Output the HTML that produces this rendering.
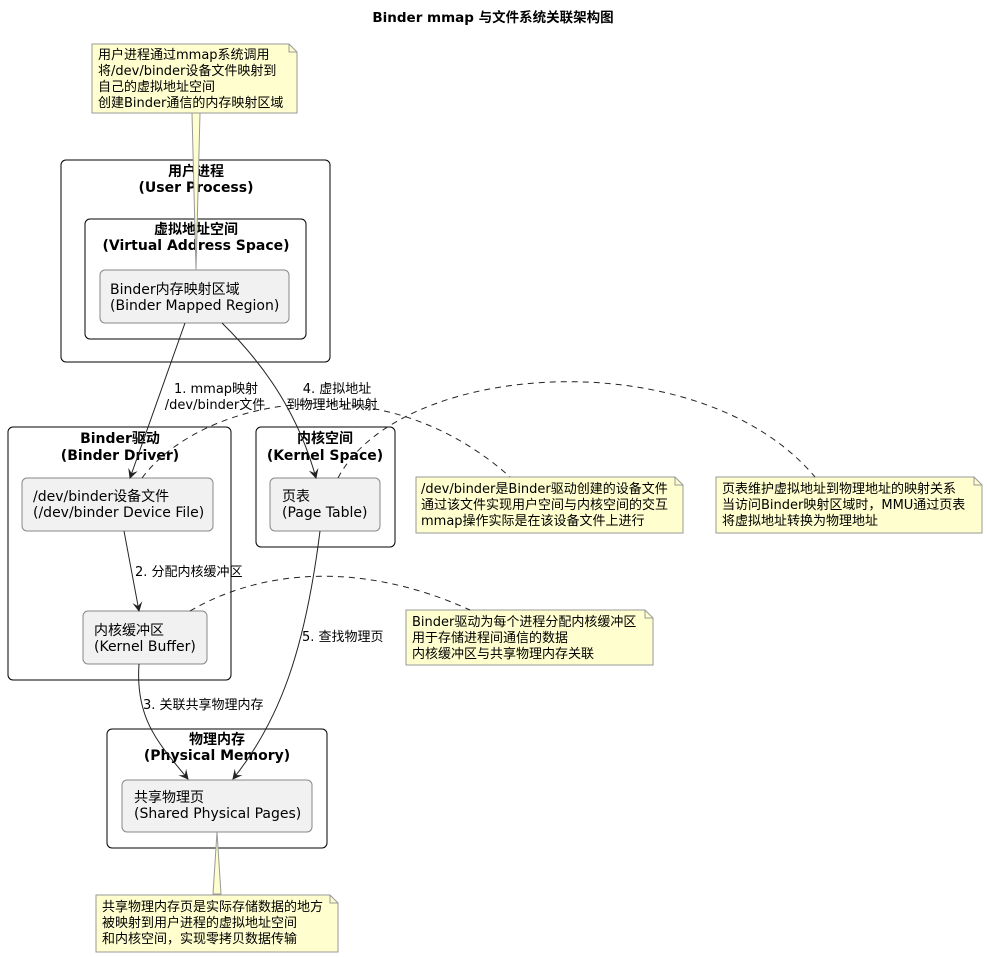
<!DOCTYPE html>
<html><head><meta charset="utf-8"><style>
body{margin:0;background:#fff}
svg{display:block}
text{font-family:"DejaVu Sans","Noto Sans CJK SC",sans-serif;font-size:13px;fill:#000}
.n{font-size:14px}
.b{font-weight:bold;text-anchor:middle;font-size:14px}
.c{text-anchor:middle}
.box{fill:#fff;stroke:#000;stroke-width:1}
.node{fill:#f1f1f1;stroke:#888;stroke-width:1}
.note{fill:#fefece;stroke:#999;stroke-width:1}
.ar{fill:none;stroke:#222;stroke-width:1}
.ds{fill:none;stroke:#222;stroke-width:1;stroke-dasharray:6,5}
</style></head><body>
<svg width="987" height="957" viewBox="0 0 987 957" xmlns="http://www.w3.org/2000/svg">
<defs><marker id="a" viewBox="0 0 10 10" refX="9" refY="5" markerWidth="10" markerHeight="10" orient="auto-start-reverse" markerUnits="userSpaceOnUse"><path d="M0,0 L10,5 L0,10 L4,5 z" fill="#222"/></marker></defs>
<text x="493" y="22" class="b" style="font-size:13.5px">Binder mmap 与文件系统关联架构图</text>

<rect class="box" x="61" y="160" width="269" height="202" rx="5"/>
<text class="b" x="196" y="176">用户进程</text><text class="b" x="196" y="192">(User Process)</text>
<rect class="box" x="85" y="219" width="221" height="120" rx="5"/>
<text class="b" x="196" y="234">虚拟地址空间</text><text class="b" x="196" y="250">(Virtual Address Space)</text>
<rect class="node" x="100" y="270" width="189" height="53" rx="5"/>
<text class="n" x="110" y="294">Binder内存映射区域</text><text class="n" x="110" y="310">(Binder Mapped Region)</text>

<rect class="box" x="8" y="427" width="223" height="253" rx="5"/>
<text class="b" x="120" y="443">Binder驱动</text><text class="b" x="120" y="460">(Binder Driver)</text>
<rect class="node" x="22" y="478" width="191" height="53" rx="5"/>
<text class="n" x="33" y="501">/dev/binder设备文件</text><text class="n" x="33" y="517">(/dev/binder Device File)</text>
<rect class="node" x="83" y="611" width="124" height="53" rx="5"/>
<text class="n" x="94" y="635">内核缓冲区</text><text class="n" x="94" y="651">(Kernel Buffer)</text>

<rect class="box" x="256" y="427" width="139" height="120" rx="5"/>
<text class="b" x="325" y="443">内核空间</text><text class="b" x="325" y="460">(Kernel Space)</text>
<rect class="node" x="270" y="478" width="110" height="53" rx="5"/>
<text class="n" x="282" y="501">页表</text><text class="n" x="282" y="517">(Page Table)</text>

<rect class="box" x="107" y="729" width="220" height="119" rx="5"/>
<text class="b" x="217" y="744">物理内存</text><text class="b" x="217" y="760">(Physical Memory)</text>
<rect class="node" x="122" y="780" width="190" height="52" rx="5"/>
<text class="n" x="134" y="802">共享物理页</text><text class="n" x="134" y="818">(Shared Physical Pages)</text>

<path class="note" d="M92,44 H289 L297,52 V113 H92 Z"/><path d="M289,44 V52 H297" fill="none" stroke="#999"/>
<path d="M192,113 L196,270 L200,113 Z" fill="#fefece" stroke="#999"/>
<text x="98" y="59">用户进程通过mmap系统调用</text><text x="98" y="75">将/dev/binder设备文件映射到</text><text x="98" y="91">自己的虚拟地址空间</text><text x="98" y="107">创建Binder通信的内存映射区域</text>

<path class="note" d="M416,477 H675 L683,485 V533 H416 Z"/><path d="M675,477 V485 H683" fill="none" stroke="#999"/>
<text x="421" y="493">/dev/binder是Binder驱动创建的设备文件</text><text x="421" y="509">通过该文件实现用户空间与内核空间的交互</text><text x="421" y="525">mmap操作实际是在该设备文件上进行</text>

<path class="note" d="M716,477 H974 L982,485 V533 H716 Z"/><path d="M974,477 V485 H982" fill="none" stroke="#999"/>
<text x="722" y="493">页表维护虚拟地址到物理地址的映射关系</text><text x="722" y="509">当访问Binder映射区域时，MMU通过页表</text><text x="722" y="525">将虚拟地址转换为物理地址</text>

<path class="note" d="M406,610 H645 L653,618 V665 H406 Z"/><path d="M645,610 V618 H653" fill="none" stroke="#999"/>
<text x="412" y="626">Binder驱动为每个进程分配内核缓冲区</text><text x="412" y="642">用于存储进程间通信的数据</text><text x="412" y="658">内核缓冲区与共享物理内存关联</text>

<path d="M213,894 L217,832 L221,894 Z" fill="#fefece" stroke="#999"/>
<path class="note" d="M96,895 H330 L338,903 V952 H96 Z"/><path d="M330,895 V903 H338" fill="none" stroke="#999"/>
<text x="102" y="911">共享物理内存页是实际存储数据的地方</text><text x="102" y="927">被映射到用户进程的虚拟地址空间</text><text x="102" y="943">和内核空间，实现零拷贝数据传输</text>

<path class="ds" d="M142,478 C200,400 380,360 510,477"/>
<path class="ds" d="M338,478 C400,360 700,340 815,477"/>
<path class="ds" d="M190,611 C260,570 360,560 470,610"/>

<path class="ar" marker-end="url(#a)" d="M185,323 L130,478"/>
<path class="ar" marker-end="url(#a)" d="M222,323 C270,370 300,420 316,478"/>
<path class="ar" marker-end="url(#a)" d="M124,531 L139,611"/>
<path class="ar" marker-end="url(#a)" d="M139,664 C135,720 160,745 188,779"/>
<path class="ar" marker-end="url(#a)" d="M320,531 C305,650 280,720 233,779"/>

<text class="c" x="216" y="393">1. mmap映射</text><text class="c" x="215" y="409">/dev/binder文件</text>
<text class="c" x="337" y="393">4. 虚拟地址</text><text class="c" x="332" y="409">到物理地址映射</text>
<text x="135" y="576">2. 分配内核缓冲区</text>
<text x="143" y="709">3. 关联共享物理内存</text>
<text x="302" y="641">5. 查找物理页</text>
</svg>
</body></html>
